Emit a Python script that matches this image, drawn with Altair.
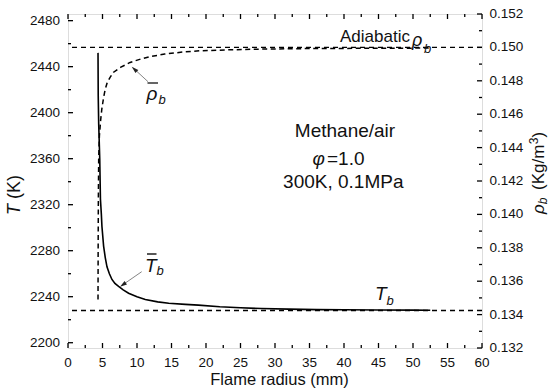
import altair as alt
import pandas as pd

FONT = "Liberation Sans"

# ---- data ----
r_T = [4.35, 4.38, 4.45, 4.60, 4.70, 4.83, 4.92, 5.16, 5.40, 5.65, 6.00, 6.37, 6.80, 7.33,
       8.00, 8.78, 10.0, 11.2, 13.0, 14.6, 17.0, 18.9, 22.0, 25.0, 28.0, 32.0, 36.0, 40.0,
       45.0, 50.0, 52.5]
T_vals = [2452, 2415, 2390, 2360, 2325, 2312, 2301, 2284, 2274, 2266, 2260, 2255, 2251.5, 2249,
          2246, 2243, 2240, 2237.5, 2235.5, 2234.3, 2233.3, 2232.7, 2231.3, 2230.4, 2229.7,
          2229.2, 2228.8, 2228.6, 2228.4, 2228.3, 2228.2]

r_rho = [4.35, 4.37, 4.40, 4.45, 4.55, 4.72, 4.90, 5.16, 5.40, 5.69, 6.10, 6.56, 7.60, 9.00,
         10.5, 11.9, 14.0, 17.0, 19.2, 23.0, 28.0, 35.0, 45.0, 52.5]
rho_vals = [0.1349, 0.1380, 0.1410, 0.1434, 0.1447, 0.1456, 0.1463, 0.1470, 0.1475, 0.1479,
            0.1482, 0.1485, 0.1488, 0.1491, 0.1493, 0.14945, 0.1496, 0.14974, 0.1498, 0.14985,
            0.1499, 0.14993, 0.14995, 0.14996]

adiabatic_rho = [0.150]
T_equilibrium = [2228]

x_major = [0, 5, 10, 15, 20, 25, 30, 35, 40, 45, 50, 55, 60]
x_minor = [2.5, 7.5, 12.5, 17.5, 22.5, 27.5, 32.5, 37.5, 42.5, 47.5, 52.5, 57.5]
T_major = [2200, 2240, 2280, 2320, 2360, 2400, 2440, 2480]
T_minor = [2220, 2260, 2300, 2340, 2380, 2420, 2460]
rho_major = [0.132, 0.134, 0.136, 0.138, 0.140, 0.142, 0.144, 0.146, 0.148, 0.150, 0.152]
rho_minor = [0.133, 0.135, 0.137, 0.139, 0.141, 0.143, 0.145, 0.147, 0.149, 0.151]

W, H = 414, 334
TICK_FS = 13.5

xs = alt.Scale(domain=[0, 60], nice=False, zero=False)
yT = alt.Scale(domain=[2195.4, 2485.8], nice=False, zero=False)
yR = alt.Scale(domain=[0.132, 0.152], nice=False, zero=False)

dfT = pd.DataFrame({"r": r_T, "T": T_vals, "i": range(len(r_T))})
dfR = pd.DataFrame({"r": r_rho, "rho": rho_vals, "i": range(len(r_rho))})

# ---- temperature (left axis) group ----
T_line = alt.Chart(dfT).mark_line(color="black", strokeWidth=1.6).encode(
    x=alt.X("r:Q", scale=xs, axis=None),
    y=alt.Y("T:Q", scale=yT, axis=None),
    order="i:Q",
)
T_eq = alt.Chart(pd.DataFrame({"v": T_equilibrium})).mark_rule(
    color="black", strokeWidth=1.4, strokeDash=[5, 4]).encode(
    y=alt.Y("v:Q", scale=yT, axis=None))


def yticks(vals, scale, x0, x1):
    return alt.Chart(pd.DataFrame({"v": vals})).mark_rule(color="black", strokeWidth=1.3).encode(
        y=alt.Y("v:Q", scale=scale, axis=None), x=alt.value(x0), x2=alt.value(x1))


def xticks(vals, y0, y1):
    return alt.Chart(pd.DataFrame({"v": vals})).mark_rule(color="black", strokeWidth=1.3).encode(
        x=alt.X("v:Q", scale=xs, axis=None), y=alt.value(y0), y2=alt.value(y1))


def ylabels(vals, scale, x, align, fmt):
    return alt.Chart(pd.DataFrame({"v": vals})).mark_text(
        align=align, baseline="middle", font=FONT, fontSize=TICK_FS, color="#111").encode(
        y=alt.Y("v:Q", scale=scale, axis=None), x=alt.value(x),
        text=alt.Text("v:Q", format=fmt))


x_labels = alt.Chart(pd.DataFrame({"v": x_major})).mark_text(
    align="center", baseline="alphabetic", font=FONT, fontSize=TICK_FS, color="#111").encode(
    x=alt.X("v:Q", scale=xs, axis=None), y=alt.value(H + 18.5),
    text=alt.Text("v:Q", format="d"))

left_group = alt.layer(
    T_line, T_eq,
    yticks(T_major, yT, 0, 5), yticks(T_minor, yT, 0, 3),
    xticks(x_major, H, H - 5), xticks(x_minor, H, H - 3),
    xticks(x_major, 0, 5), xticks(x_minor, 0, 3),
    ylabels(T_major, yT, -8, "right", "d"),
    x_labels,
)

# ---- density (right axis) group ----
R_line = alt.Chart(dfR).mark_line(color="black", strokeWidth=1.5, strokeDash=[5, 3.5]).encode(
    x=alt.X("r:Q", scale=xs, axis=None),
    y=alt.Y("rho:Q", scale=yR, axis=None),
    order="i:Q",
)
R_ad = alt.Chart(pd.DataFrame({"v": adiabatic_rho})).mark_rule(
    color="black", strokeWidth=1.4, strokeDash=[5, 4]).encode(
    y=alt.Y("v:Q", scale=yR, axis=None))

right_group = alt.layer(
    R_line, R_ad,
    yticks(rho_major, yR, W, W - 5), yticks(rho_minor, yR, W, W - 3),
    ylabels(rho_major, yR, W + 7.5, "left", ".3f"),
)


# ---- annotations ----
def label(txt, x, y, size, italic=False, align="left", angle=0):
    props = dict(align=align, baseline="alphabetic", fontSize=size, font=FONT,
                 fontStyle="italic" if italic else "normal", color="#111")
    if angle:
        props["angle"] = angle
    return alt.Chart(pd.DataFrame({"t": [txt]})).mark_text(**props).encode(
        x=alt.value(x), y=alt.value(y), text="t:N")


def seg(x0, y0, x1, y1, color="#111", width=1.3):
    return alt.Chart(pd.DataFrame({"a": [0]})).mark_rule(color=color, strokeWidth=width).encode(
        x=alt.value(x0), y=alt.value(y0), x2=alt.value(x1), y2=alt.value(y1))


def head(x, y, ang):
    return alt.Chart(pd.DataFrame({"a": [0]})).mark_point(
        shape="M0,-1L0.6,1L-0.6,1Z", filled=True, color="#222", size=49, angle=ang, opacity=1
    ).encode(x=alt.value(x), y=alt.value(y))


notes = [
    label("Adiabatic", 272, 27.7, 17),
    label("ρ", 344, 32, 18, italic=True),
    label("b", 356, 38.5, 13, italic=True),
    label("Methane/air", 277, 122.7, 19, align="center"),
    label("φ", 257, 151, 19, italic=True, align="right"),
    label("=1.0", 259, 151, 19),
    label("300K, 0.1MPa", 275.3, 174.3, 19, align="center"),
    # rho-bar label and arrow
    label("ρ", 78.5, 85.5, 19, italic=True),
    label("b", 90.5, 89.5, 13, italic=True),
    seg(79.5, 69, 90, 69, width=1.3),
    seg(80, 67.7, 65.5, 54.3, color="#666", width=0.8),
    head(66.3, 55.1, 312.6),
    # T-bar label and arrow
    label("T", 77, 257.7, 19, italic=True),
    label("b", 88.5, 261, 13, italic=True),
    seg(79, 240, 88.5, 240, width=1.4),
    seg(73.7, 257.7, 54, 271.3, color="#666", width=0.8),
    head(54.9, 270.7, 235.3),
    # T_b equilibrium label
    label("T", 307, 286, 19, italic=True),
    label("b", 318.5, 291, 13, italic=True),
    # axis titles
    label("Flame radius (mm)", 211.5, 371, 16.5, align="center"),
    label("T", -48, 201, 18, italic=True, angle=270),
    label("(K)", -48, 185, 18, angle=270),
    label("ρ", 476, 200, 17, italic=True, angle=270),
    label("b", 479, 190.2, 12, italic=True, angle=270),
    label("(Kg/m", 476, 176, 17, angle=270),
    label("3", 470, 130.3, 12, angle=270),
    label(")", 476, 123.6, 17, angle=270),
]

chart = alt.layer(left_group, right_group, *notes).resolve_scale(y="independent").properties(
    width=W, height=H,
    autosize=alt.AutoSizeParams(type="none"),
    padding={"left": 68, "top": 14, "right": 68, "bottom": 44},
).configure_view(stroke="black", strokeWidth=1.6).configure(background="white")

chart.save("out.html", embed_options={"renderer": "svg", "actions": False})
